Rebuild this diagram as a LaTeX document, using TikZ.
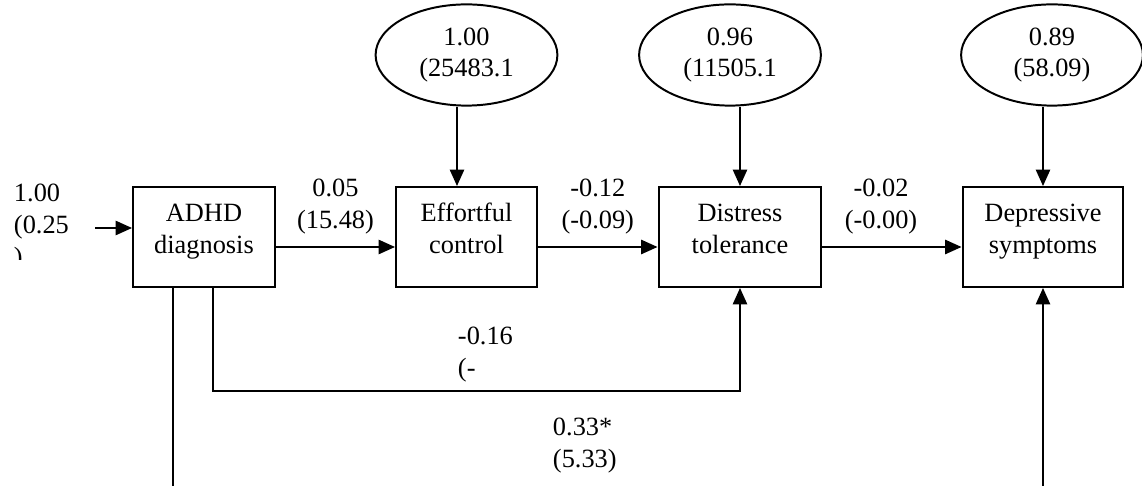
\documentclass[tikz,border=0pt]{standalone}
\usepackage{fontspec}
\setmainfont{Liberation Serif}
\usetikzlibrary{arrows.meta, positioning, shapes.geometric, calc}

\begin{document}
\begin{tikzpicture}[x=0.016cm, y=-0.016cm, line width=0.9pt,
        >={Triangle[length=7.5pt, width=6.5pt]},
        every node/.style={font=\fontsize{12}{14.5}\selectfont},
        box/.style={draw, rectangle, minimum height=1.6cm, align=center, text height=22.4pt, text depth=7.2pt},
        err/.style={draw, ellipse, minimum width=2.91cm, minimum height=1.62cm, inner sep=0pt, align=center},
        coef/.style={align=center}]
    \useasboundingbox (0,0) rectangle (1142,486);

    \node[box, minimum width=2.272cm] (adhd) at (204,237) {ADHD\\diagnosis};
    \node[box, minimum width=2.256cm] (effort) at (466.5,237) {Effortful\\control};
    \node[box, minimum width=2.608cm] (distress) at (740,237) {Distress\\tolerance};
    \node[box, minimum width=2.576cm] (dep) at (1043,237) {Depressive\\symptoms};

    \node[err] (e1) at (466.5,55) {1.00\\(25483.1};
    \node[err] (e2) at (730,55) {0.96\\(11505.1};
    \node[err] (e3) at (1052,55) {0.89\\(58.09)};

    \coordinate (src) at (95,228);
    \coordinate (adhdfoot) at (173,486);
    \coordinate (depfoot) at (1043,486);
    \coordinate (effin) at ($(effort.north)+(-9.5,0)$);

    % variance of ADHD diagnosis, cut off at the bottom
    \begin{scope}
        \clip (0,170) rectangle (94,260);
        \node[anchor=north west, inner sep=0pt, align=left] (v0) at (13,183) {1.00\\(0.25\\)};
    \end{scope}

    \draw[->] (src) -- (src -| adhd.west);
    \draw[->] (effin |- e1.south) -- (effin);
    \draw[->] (distress.north |- e2.south) -- (distress.north);
    \draw[->] (dep.north |- e3.south) -- (dep.north);

    \draw[->] ($(adhd.east)+(0,10)$) -- ($(effort.west)+(0,10)$) node[coef, midway, above=2pt] {0.05\\(15.48)};
    \draw[->] ($(effort.east)+(0,10)$) -- ($(distress.west)+(0,10)$) node[coef, midway, above=2pt] {-0.12\\(-0.09)};
    \draw[->] ($(distress.east)+(0,10)$) -- ($(dep.west)+(0,10)$) node[coef, midway, above=2pt, xshift=-5pt] {-0.02\\(-0.00)};

    \draw[->] ($(adhd.south)+(9,0)$) -- ++(0,103) -| (distress.south);
    \draw (adhdfoot |- adhd.south) -- (adhdfoot);
    \draw[->] (depfoot) -- (depfoot |- dep.south);

    \node[anchor=north west, inner sep=0pt, align=left] (c1) at (457,326) {-0.16\\(-};
    \node[anchor=north west, inner sep=0pt, align=left] (c2) at (552,417) {0.33*\\(5.33)};
\end{tikzpicture}
\end{document}
